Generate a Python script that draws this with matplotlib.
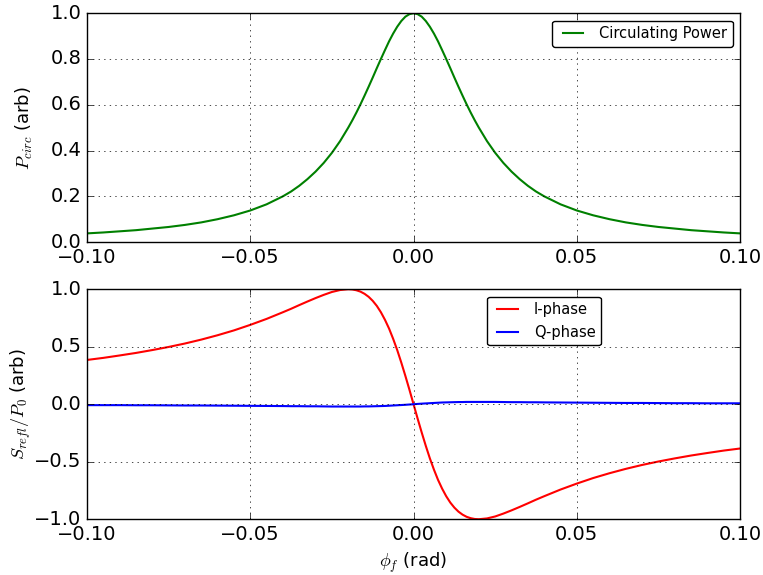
import matplotlib
matplotlib.use('Agg')
import matplotlib.pyplot as plt

# detuning (rad)
phi = [-0.1, -0.095, -0.09, -0.085, -0.08, -0.075, -0.07, -0.065, -0.06, -0.055,
       -0.05, -0.045, -0.04, -0.0375, -0.035, -0.0325, -0.03, -0.0275, -0.025, -0.0225,
       -0.02, -0.01875, -0.0175, -0.01625, -0.015, -0.01375, -0.0125, -0.01125, -0.01, -0.00875,
       -0.0075, -0.00625, -0.005, -0.00375, -0.0025, -0.00125,
       0.0,
       0.00125, 0.0025, 0.00375, 0.005, 0.00625, 0.0075, 0.00875, 0.01, 0.01125, 0.0125,
       0.01375, 0.015, 0.01625, 0.0175, 0.01875, 0.02, 0.0225, 0.025, 0.0275, 0.03,
       0.0325, 0.035, 0.0375, 0.04, 0.045, 0.05, 0.055, 0.06, 0.065, 0.07,
       0.075, 0.08, 0.085, 0.09, 0.095, 0.1]

p_circ = [0.038, 0.042, 0.047, 0.052, 0.059, 0.066, 0.075, 0.086, 0.100, 0.117,
          0.138, 0.165, 0.200, 0.221, 0.246, 0.275, 0.308, 0.346, 0.390, 0.441,
          0.500, 0.532, 0.566, 0.602, 0.640, 0.679, 0.719, 0.760, 0.800, 0.839,
          0.877, 0.911, 0.941, 0.966, 0.985, 0.996,
          1.000,
          0.996, 0.985, 0.966, 0.941, 0.911, 0.877, 0.839, 0.800, 0.760, 0.719,
          0.679, 0.640, 0.602, 0.566, 0.532, 0.500, 0.441, 0.390, 0.346, 0.308,
          0.275, 0.246, 0.221, 0.200, 0.165, 0.138, 0.117, 0.100, 0.086, 0.075,
          0.066, 0.059, 0.052, 0.047, 0.042, 0.038]

i_phase = [0.385, 0.403, 0.424, 0.446, 0.471, 0.498, 0.528, 0.562, 0.600, 0.642,
           0.690, 0.742, 0.800, 0.830, 0.862, 0.893, 0.923, 0.951, 0.976, 0.993,
           1.000, 0.998, 0.991, 0.979, 0.960, 0.934, 0.899, 0.855, 0.800, 0.734,
           0.658, 0.569, 0.471, 0.362, 0.246, 0.125,
           0.000,
           -0.125, -0.246, -0.362, -0.471, -0.569, -0.658, -0.734, -0.800, -0.855, -0.899,
           -0.934, -0.960, -0.979, -0.991, -0.998, -1.000, -0.993, -0.976, -0.951, -0.923,
           -0.893, -0.862, -0.830, -0.800, -0.742, -0.690, -0.642, -0.600, -0.562, -0.528,
           -0.498, -0.471, -0.446, -0.424, -0.403, -0.385]

q_phase = [-0.008, -0.008, -0.008, -0.009, -0.009, -0.010, -0.011, -0.011, -0.012, -0.013,
           -0.014, -0.015, -0.016, -0.017, -0.017, -0.018, -0.018, -0.019, -0.020, -0.020,
           -0.020, -0.020, -0.020, -0.020, -0.019, -0.019, -0.018, -0.017, -0.016, -0.015,
           -0.013, -0.011, -0.009, -0.007, -0.005, -0.0025,
           0.000,
           0.0025, 0.005, 0.007, 0.009, 0.011, 0.013, 0.015, 0.016, 0.017, 0.018,
           0.019, 0.019, 0.020, 0.020, 0.020, 0.020, 0.020, 0.020, 0.019, 0.018,
           0.018, 0.017, 0.017, 0.016, 0.015, 0.014, 0.013, 0.012, 0.011, 0.011,
           0.010, 0.009, 0.009, 0.008, 0.008, 0.008]

plt.style.use('classic')
plt.rcParams['figure.facecolor'] = 'white'
plt.rcParams['savefig.facecolor'] = 'white'
plt.rcParams['font.size'] = 13
plt.rcParams['xtick.labelsize'] = 14
plt.rcParams['ytick.labelsize'] = 14
plt.rcParams['axes.labelsize'] = 13

fig = plt.figure(figsize=(7.63, 5.75), dpi=100)
ax1 = fig.add_axes([0.114, 0.579, 0.856, 0.398])
ax2 = fig.add_axes([0.114, 0.097, 0.856, 0.400])

ax1.plot(phi, p_circ, color='green', lw=1.5, label='Circulating Power')
ax1.set_xlim(-0.1, 0.1)
ax1.set_ylim(0, 1)
ax1.set_ylabel(r'$P_{circ}$ (arb)')
ax1.yaxis.set_label_coords(-0.080, 0.5)
ax1.grid(True)
ax1.legend(loc='upper right', fontsize=10.5, fancybox=True)

ax2.plot(phi, i_phase, color='red', lw=1.5, label='I-phase')
ax2.plot(phi, q_phase, color='blue', lw=1.5, label='Q-phase')
ax2.set_xlim(-0.1, 0.1)
ax2.set_ylim(-1, 1)
ax2.set_yticks([-1.0, -0.5, 0.0, 0.5, 1.0])
ax2.set_ylabel(r'$S_{refl}/P_0$ (arb)')
ax2.yaxis.set_label_coords(-0.082, 0.5)
ax2.set_xlabel(r'$\phi_f$ (rad)')
ax2.grid(True)
ax2.legend(loc='upper center', bbox_to_anchor=(0.7, 1.0), fontsize=10.5, fancybox=True)

fig.savefig('out.png', dpi=100)
